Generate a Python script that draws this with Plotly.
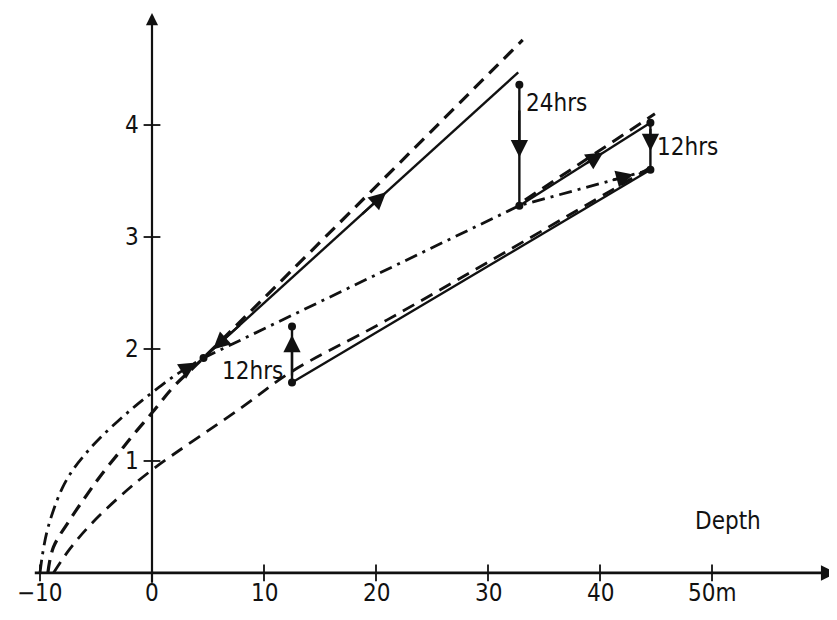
import plotly.graph_objects as go

# ---------------- data ----------------
x_ticks = [-10, 0, 10, 20, 30, 40, 50]
x_tick_text = ["\u221210", "0", "10", "20", "30", "40", "50m"]
y_ticks = [1, 2, 3, 4]
y_tick_text = ["1", "2", "3", "4"]

# dash-dot curve (rising from -10 m into the junction point)
dd_curve_x = [-10, -9.8, -9.4, -8.8, -8.0, -7.0, -5.8, -4.6, -3.0, -1.5, 0, 2.0, 4.6]
dd_curve_y = [0, 0.15, 0.36, 0.56, 0.76, 0.93, 1.08, 1.21, 1.36, 1.49, 1.61, 1.76, 1.92]
# dash-dot straight continuation
dd_line_x = [4.6, 32.8, 44.5]
dd_line_y = [1.92, 3.28, 3.6]

# middle dashed curve continuing as upper dashed line
dm_x = [-9.3, -8.8, -7.3, -5.8, -4.5, -2.9, -1.7, 0, 1.9, 4.6, 33.1]
dm_y = [0, 0.23, 0.48, 0.70, 0.88, 1.08, 1.23, 1.43, 1.66, 1.92, 4.76]

# lower dashed curve
dl_x = [-8.8, -7.3, -5.4, -2.9, 0, 7.9, 12.5, 21, 44.5]
dl_y = [0, 0.22, 0.44, 0.68, 0.92, 1.47, 1.8, 2.26, 3.62]

# upper-right dashed segment
dr_x = [33.3, 44.9]
dr_y = [3.33, 4.1]

# solid loading path
solid_up_x = [4.6, 32.7]
solid_up_y = [1.92, 4.47]
hold24_x = [32.8, 32.8]
hold24_y = [4.36, 3.28]
solid2_x = [32.8, 44.5]
solid2_y = [3.28, 4.02]
hold12b_x = [44.5, 44.5]
hold12b_y = [4.02, 3.6]
solid3_x = [44.5, 12.5]
solid3_y = [3.6, 1.70]
hold12a_x = [12.5, 12.5]
hold12a_y = [1.70, 2.2]

# ---------------- figure ----------------
FONT = "DejaVu Sans Condensed, Liberation Sans Narrow, Roboto Condensed, DejaVu Sans, sans-serif"
BLACK = "#111111"
FS = 24

fig = go.Figure()

DASH = "13px,8px"
DASHDOT = "13px,6px,3px,6px"

fig.add_trace(go.Scatter(x=dd_curve_x, y=dd_curve_y, mode="lines", line=dict(color=BLACK, width=2.8, dash=DASHDOT, shape="spline", smoothing=1.0)))
fig.add_trace(go.Scatter(x=dd_line_x, y=dd_line_y, mode="lines", line=dict(color=BLACK, width=2.8, dash=DASHDOT)))
fig.add_trace(go.Scatter(x=dm_x, y=dm_y, mode="lines", line=dict(color=BLACK, width=3.2, dash=DASH, shape="spline", smoothing=1.0)))
fig.add_trace(go.Scatter(x=dl_x, y=dl_y, mode="lines", line=dict(color=BLACK, width=2.8, dash=DASH, shape="spline", smoothing=1.0)))
fig.add_trace(go.Scatter(x=dr_x, y=dr_y, mode="lines", line=dict(color=BLACK, width=3, dash=DASH)))

for sx, sy in [(solid_up_x, solid_up_y), (hold24_x, hold24_y), (solid2_x, solid2_y),
               (hold12b_x, hold12b_y), (solid3_x, solid3_y), (hold12a_x, hold12a_y)]:
    fig.add_trace(go.Scatter(x=sx, y=sy, mode="lines", line=dict(color=BLACK, width=2.4)))

# vertex dots
dot_x = [solid_up_x[0], hold24_x[0], hold24_x[1], hold12b_x[0], hold12b_x[1], hold12a_x[0], hold12a_x[1]]
dot_y = [solid_up_y[0], hold24_y[0], hold24_y[1], hold12b_y[0], hold12b_y[1], hold12a_y[0], hold12a_y[1]]
fig.add_trace(go.Scatter(x=dot_x, y=dot_y, mode="markers", marker=dict(color=BLACK, size=8)))

# tick marks (crossing)
fig.add_trace(go.Scatter(x=x_ticks, y=[0] * len(x_ticks), mode="markers",
                         marker=dict(symbol="line-ns", size=12, line=dict(color=BLACK, width=1.8))))
fig.add_trace(go.Scatter(x=[0] * len(y_ticks), y=y_ticks, mode="markers",
                         marker=dict(symbol="line-ew", size=12, line=dict(color=BLACK, width=1.8))))

annotations = []

# axes as arrows
annotations.append(dict(x=61.1, y=0, ax=-10.6, ay=0, xref="x", yref="y", axref="x", ayref="y",
                        showarrow=True, arrowhead=2, arrowsize=1.1, arrowwidth=2.8, arrowcolor=BLACK, text=""))
annotations.append(dict(x=0, y=5.0, ax=0, ay=-0.1, xref="x", yref="y", axref="x", ayref="y",
                        showarrow=True, arrowhead=2, arrowsize=1.1, arrowwidth=2.2, arrowcolor=BLACK, text=""))


def along(xs, ys, t, i=0):
    return xs[i] + t * (xs[i + 1] - xs[i]), ys[i] + t * (ys[i + 1] - ys[i])


def mid_arrow(xs, ys, t_tail, t_head, i=0, size=1.5, width=2.3):
    tx, ty = along(xs, ys, t_tail, i)
    hx, hy = along(xs, ys, t_head, i)
    annotations.append(dict(x=hx, y=hy, ax=tx, ay=ty, xref="x", yref="y", axref="x", ayref="y",
                            showarrow=True, arrowhead=2, arrowsize=size, arrowwidth=width,
                            arrowcolor=BLACK, text="", standoff=0))


mid_arrow(solid_up_x, solid_up_y, 0.5, 0.58)
mid_arrow(solid_up_x, solid_up_y, 0.12, 0.03)
mid_arrow(dd_curve_x, dd_curve_y, 0.2, 0.75, i=len(dd_curve_x) - 2)
mid_arrow(hold24_x, hold24_y, 0.2, 0.6)
mid_arrow(solid2_x, solid2_y, 0.5, 0.64)
mid_arrow(hold12b_x, hold12b_y, 0.1, 0.6)
mid_arrow(dd_line_x, dd_line_y, 0.7, 0.87, i=1)
mid_arrow(hold12a_x, hold12a_y, 0.1, 0.85)

# tick labels
for t, lab in zip(x_ticks, x_tick_text):
    annotations.append(dict(x=t, y=0, xref="x", yref="y", text=lab, showarrow=False,
                            yanchor="top", yshift=-4, font=dict(size=FS, color=BLACK, family=FONT)))
for t, lab in zip(y_ticks, y_tick_text):
    annotations.append(dict(x=0, y=t, xref="x", yref="y", text=lab, showarrow=False,
                            xanchor="right", xshift=-11, font=dict(size=FS, color=BLACK, family=FONT)))

# labels
annotations.append(dict(x=1.5, y=5.12, xref="x", yref="y", text="Resonance<br>frequency<br>kHz",
                        showarrow=False, xanchor="left", yanchor="top", align="left",
                        font=dict(size=FS, color=BLACK, family=FONT)))
annotations.append(dict(x=51.4, y=0.46, xref="x", yref="y", text="Depth", showarrow=False,
                        font=dict(size=FS, color=BLACK, family=FONT)))
annotations.append(dict(x=hold24_x[0], y=4.2, xref="x", yref="y", text="24hrs", showarrow=False,
                        xanchor="left", xshift=5, font=dict(size=FS, color=BLACK, family=FONT)))
annotations.append(dict(x=hold12b_x[0], y=3.8, xref="x", yref="y", text="12hrs", showarrow=False,
                        xanchor="left", xshift=5, font=dict(size=FS, color=BLACK, family=FONT)))
annotations.append(dict(x=hold12a_x[0], y=1.8, xref="x", yref="y", text="12hrs", showarrow=False,
                        xanchor="right", xshift=-7, font=dict(size=FS, color=BLACK, family=FONT)))

# page body adds ~8px offset; figure sized to the remaining window
fig.update_layout(
    width=829, height=612,
    margin=dict(l=0, r=0, t=0, b=0),
    paper_bgcolor="white", plot_bgcolor="white",
    showlegend=False,
    xaxis=dict(range=[-12.857, 61.16], visible=False),
    yaxis=dict(range=[-0.42, 5.045], visible=False),
    annotations=annotations,
)

fig.write_html("out.html")
